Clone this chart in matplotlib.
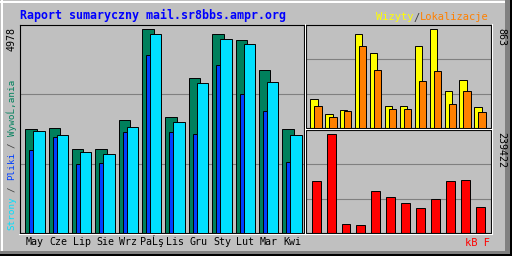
import numpy as np
import matplotlib.pyplot as plt
from matplotlib.patches import Rectangle

# monthly summary values
months = ['May', 'Cze', 'Lip', 'Sie', 'Wrz', 'PaĹş', 'Lis', 'Gru', 'Sty', 'Lut', 'Mar', 'Kwi']
hits = [2482, 2506, 2003, 2003, 2697, 4875, 2769, 3702, 4755, 4612, 3894, 2482]
files = [1979, 2290, 1644, 1668, 2410, 4253, 2410, 2362, 4013, 3319, 2913, 1692]
pages = [2434, 2338, 1931, 1883, 2530, 4755, 2649, 3583, 4636, 4516, 3607, 2338]
visits = [239, 121, 155, 785, 625, 188, 188, 684, 827, 314, 398, 180]
sites = [188, 96, 146, 684, 482, 163, 163, 390, 474, 197, 306, 138]
kbytes = [121700, 229360, 21064, 18723, 98296, 84254, 70212, 58510, 79573, 121700, 124040, 60850]
max_hits = 4978
max_visits = 863
max_kbytes = 239422

bg = '#C0C0C0'
grid_c = '#808080'
hit_c = '#00805C'
file_c = '#0040FF'
page_c = '#00E0FF'
visit_c = '#FFFF00'
site_c = '#FF8000'
kb_c = '#FF0000'
mono = 'DejaVu Sans Mono'

W, H = 512, 256
fig = plt.figure(figsize=(W / 100, H / 100), dpi=100, facecolor=bg)


def panel(x0, y0, x1, y1):
    ax = fig.add_axes([x0 / W, 1 - y1 / H, (x1 - x0) / W, (y1 - y0) / H])
    ax.set_facecolor(bg)
    for s in ax.spines.values():
        s.set_color('black')
        s.set_linewidth(0.8)
    ax.set_xticks([])
    ax.set_yticks([])
    # white shadow on right / bottom
    fig.add_artist(plt.Line2D([(x1 + 1.2) / W] * 2, [1 - (y1 + 1.2) / H, 1 - (y0 - 1) / H],
                              color='white', lw=0.8))
    fig.add_artist(plt.Line2D([(x0 - 1) / W, (x1 + 1.2) / W], [1 - (y1 + 1.2) / H] * 2,
                              color='white', lw=0.8))
    return ax


def ftext(x, y, s, **kw):
    kw.setdefault('family', mono)
    return fig.text(x / W, 1 - y / H, s, **kw)


x = np.arange(12)

# main panel: hits / files / pages
ax = panel(20, 25, 304, 233)
ax.set_xlim(-0.227, 11.93)
ax.set_ylim(0, max_hits)
for f in (1 / 3, 2 / 3):
    ax.axhline(max_hits * f, color=grid_c, lw=0.8, zorder=0)
bw = 0.488
ax.bar(x, hits, bw, align='edge', color=hit_c, edgecolor='black', lw=0.7, zorder=2)
ax.bar(x + 0.171, files, bw, align='edge', color=file_c, edgecolor='black', lw=0.7, zorder=3)
ax.bar(x + 0.342, pages, bw, align='edge', color=page_c, edgecolor='black', lw=0.7, zorder=4)
lab_tr = ax.get_xaxis_transform()
for i, m in enumerate(months):
    ax.text(i + 0.415, -12 / 208, m, transform=lab_tr, family=mono, fontsize=7.2,
            ha='center', va='baseline', clip_on=False)

# top right: visits / sites
ax2 = panel(306, 25, 491, 128)
ax2.set_xlim(-0.38, 12.02)
ax2.set_ylim(0, max_visits)
for f in (1 / 3, 2 / 3):
    ax2.axhline(max_visits * f, color=grid_c, lw=0.8, zorder=0)
ax2.bar(x - 0.093, visits, 0.493, align='edge', color=visit_c, edgecolor='black', lw=0.7, zorder=2)
ax2.bar(x + 0.174, sites, 0.493, align='edge', color=site_c, edgecolor='black', lw=0.7, zorder=3)

# bottom right: kbytes
ax3 = panel(306, 130, 491, 233)
ax3.set_xlim(-0.38, 12.02)
ax3.set_ylim(0, max_kbytes)
for f in (1 / 3, 2 / 3):
    ax3.axhline(max_kbytes * f, color=grid_c, lw=0.8, zorder=0)
ax3.bar(x, kbytes, 0.6, align='edge', color=kb_c, edgecolor='black', lw=0.7, zorder=2)

# titles and labels
ftext(20, 15.5, 'Raport sumaryczny mail.sr8bbs.ampr.org', color='#0000FF',
      fontsize=8.4, fontweight='bold', ha='left', va='center')
cw = 6.3
ftext(375.5, 17.5, 'Wizyty', color=visit_c, fontsize=7.5, ha='left', va='center')
ftext(375.5 + 6 * cw, 17.5, '/', color='#404040', fontsize=7.5, ha='left', va='center')
ftext(375.5 + 7 * cw, 17.5, 'Lokalizacje', color=site_c, fontsize=7.5, ha='left', va='center')

ftext(12, 27, str(max_hits), rotation=90, fontsize=7.2, ha='center', va='top')
ftext(501, 28, str(max_visits), rotation=270, fontsize=7.2, ha='center', va='top')
ftext(501, 132, str(max_kbytes), rotation=270, fontsize=7.2, ha='center', va='top')

cw = 5.5
segs = [('Strony', page_c, 0), ('/', '#404040', 7), ('Pliki', file_c, 9),
        ('/', '#404040', 15), ('WywoĹ‚ania', hit_c, 17)]
for s, c, n in segs:
    ftext(12, 230 - n * cw, s, color=c, rotation=90, fontsize=6.7, ha='center', va='bottom')

ftext(490, 243, 'kB F', color=kb_c, fontsize=7.5, ha='right', va='center')

# outer 3d border
fig.add_artist(Rectangle((0, 1 - 2.5 / H), 1, 1.5 / H, transform=fig.transFigure, color='white', lw=0))
fig.add_artist(Rectangle((1 / W, 0), 1.5 / W, 1, transform=fig.transFigure, color='white', lw=0))
fig.add_artist(Rectangle((505 / W, 0), 5 / W, 1, transform=fig.transFigure, color='#808080', lw=0))
fig.add_artist(Rectangle((0, 2 / H), 1, 3 / H, transform=fig.transFigure, color='#808080', lw=0))
fig.add_artist(Rectangle((510 / W, 0), 2 / W, 1, transform=fig.transFigure, color='black', lw=0))
fig.add_artist(Rectangle((0, 0), 1, 2 / H, transform=fig.transFigure, color='black', lw=0))

fig.savefig('out.png', dpi=100, facecolor=bg)
